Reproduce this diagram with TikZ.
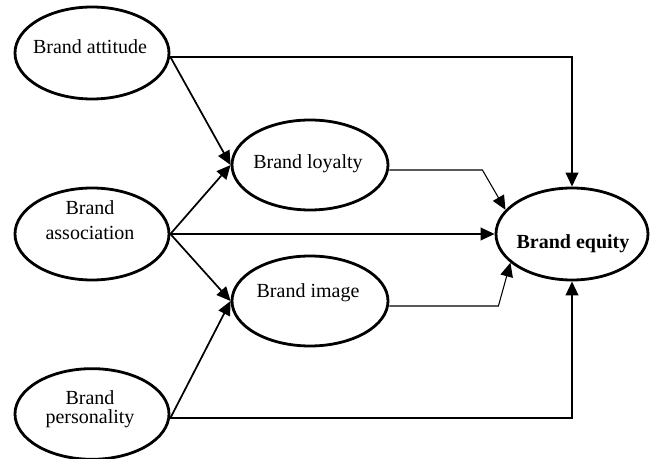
\documentclass[tikz,border=0pt]{standalone}
\usepackage{fontspec}
\setmainfont{Liberation Serif}
\usetikzlibrary{arrows.meta,shapes.geometric}
\begin{document}
\begin{tikzpicture}[x=0.75pt,y=-0.75pt,
  oval/.style={draw,ellipse,line width=2.1pt,inner sep=0pt},
  lbl/.style={anchor=base,inner sep=0pt,font=\fontsize{15}{18}\selectfont},
  arr/.style={line width=1.3pt,-{Triangle[length=10.5pt,width=9.5pt]}},
  thinarr/.style={line width=0.8pt,-{Triangle[length=10.5pt,width=9.5pt]}}]
\useasboundingbox (0,0) rectangle (650,459);
% ellipses
\node[oval,minimum width=115.5pt,minimum height=69pt] (att) at (92,53) {};
\node[oval,minimum width=115.5pt,minimum height=69pt] (asc) at (92,234) {};
\node[oval,minimum width=115.5pt,minimum height=68pt] (per) at (92,414) {};
\node[oval,minimum width=117pt,minimum height=67.5pt] (loy) at (310,165) {};
\node[oval,minimum width=117pt,minimum height=67.5pt] (img) at (310,301) {};
\node[oval,minimum width=114pt,minimum height=69pt] (eq) at (572,234) {};
% labels
\node[lbl] (tatt) at (90,54) {Brand attitude};
\node[lbl] (tasc1) at (90,215) {Brand};
\node[lbl] (tasc2) at (90,240) {association};
\node[lbl] (tper1) at (90,405) {Brand};
\node[lbl] (tper2) at (90,424) {personality};
\node[lbl] (tloy) at (308,169) {Brand loyalty};
\node[lbl] (timg) at (308,298) {Brand image};
\node[lbl,font=\fontsize{15}{18}\selectfont\bfseries] (teq) at (573,249) {Brand equity};
% connectors
\draw[arr] ([yshift=-3pt]att.east) -| (eq.north);
\draw[arr] ([yshift=-3pt]att.east) -- (loy.west);
\draw[arr] (asc.east) -- (loy.west);
\draw[arr] (asc.east) -- (eq.west);
\draw[arr] (asc.east) -- (img.west);
\draw[arr] ([yshift=-3pt]per.east) -- (img.west);
\draw[arr] ([yshift=-3pt]per.east) -| (eq.south);
\draw[thinarr] ([yshift=-3.75pt]loy.east) -- ++(93,0) -- (eq.160);
\draw[thinarr] ([yshift=-3.75pt]img.east) -- ++(109,0) -- (eq.205);
\end{tikzpicture}
\end{document}
